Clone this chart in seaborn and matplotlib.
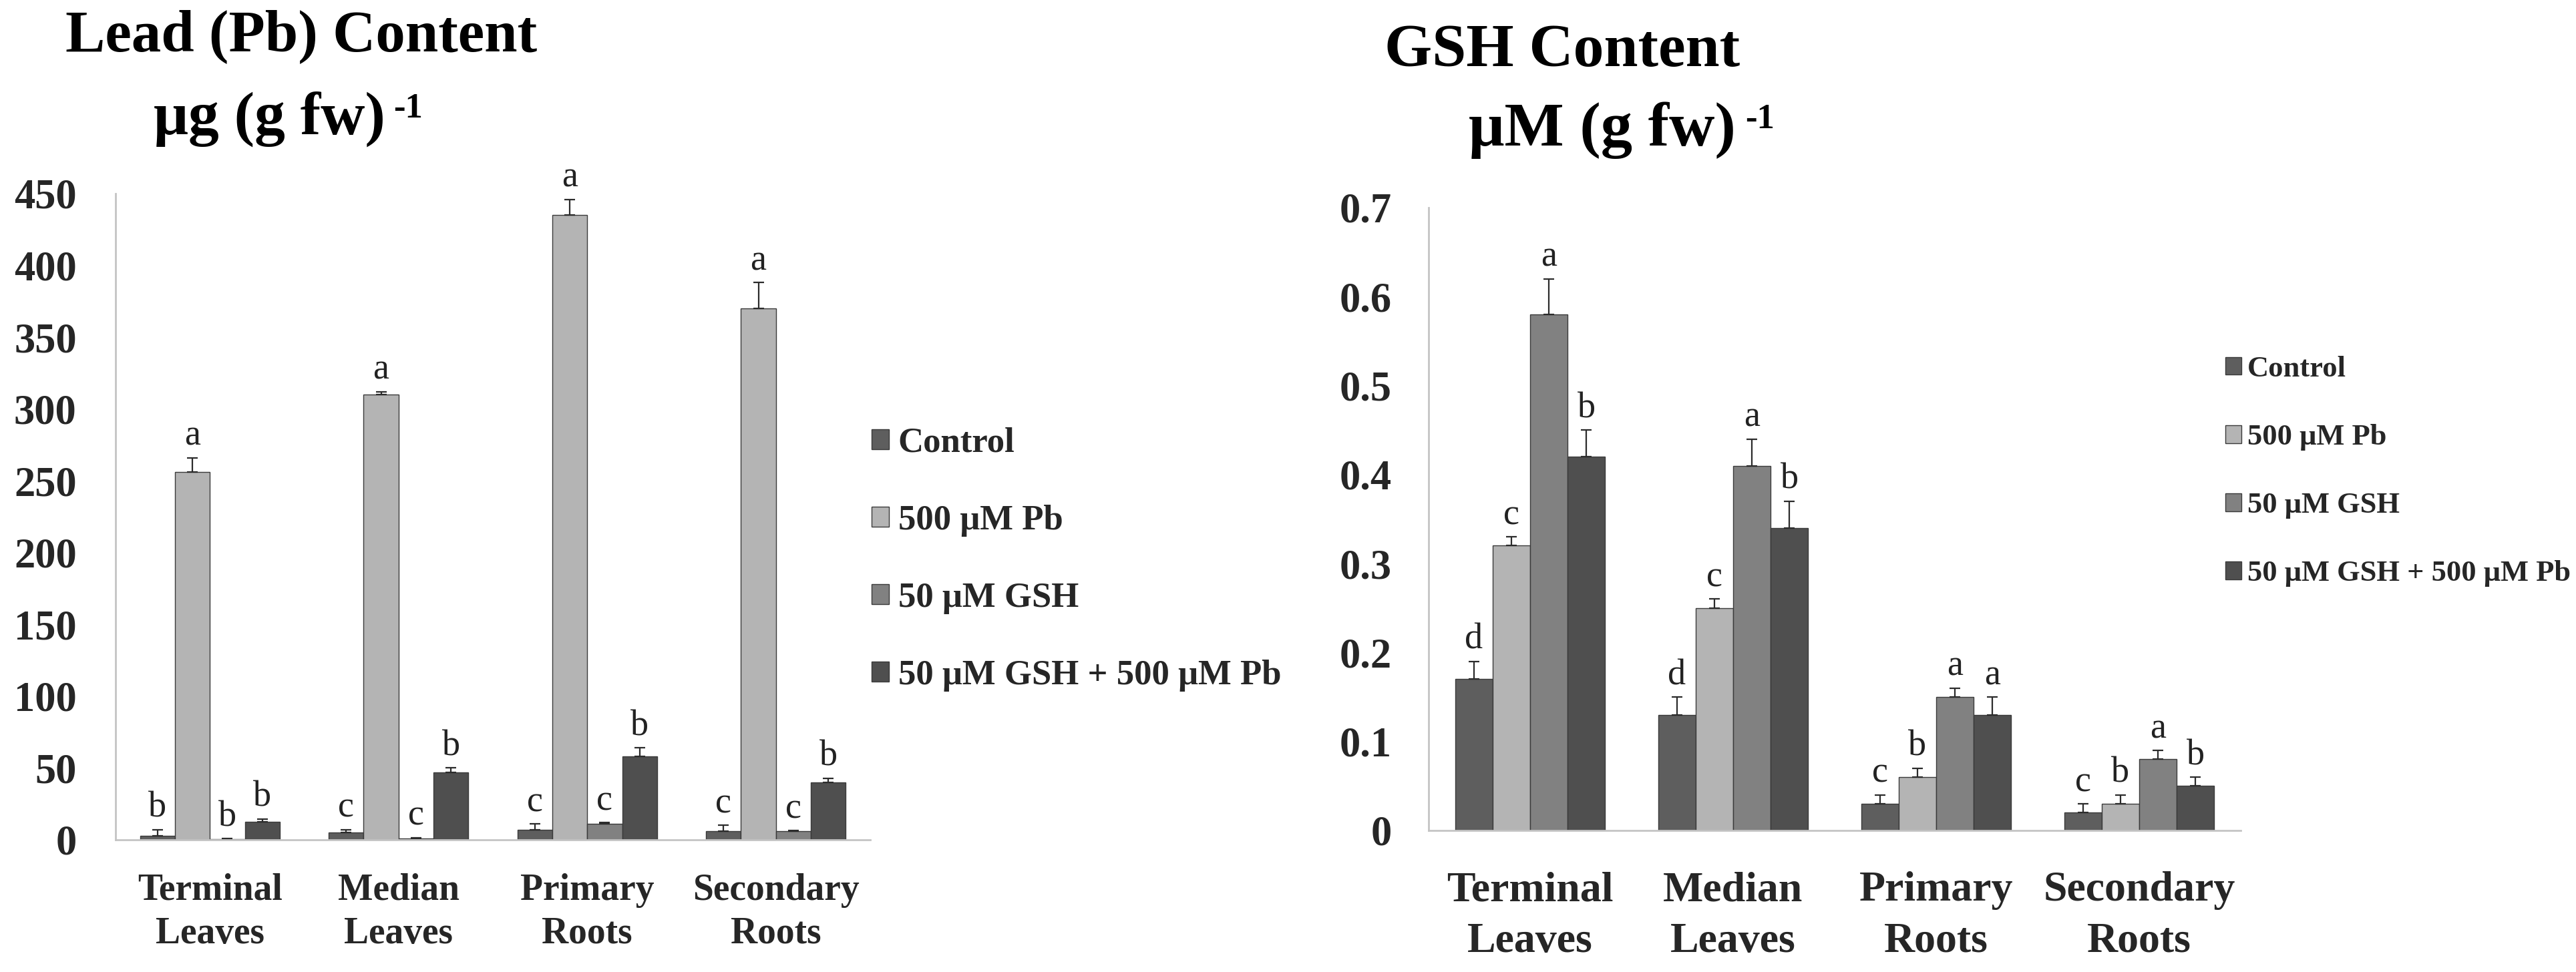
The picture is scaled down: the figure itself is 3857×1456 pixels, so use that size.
import matplotlib
matplotlib.use("Agg")
import matplotlib.pyplot as plt
import seaborn as sns
import pandas as pd
import numpy as np
from matplotlib.patches import Patch

# ---------------- data ----------------
tissues = ["Terminal\nLeaves", "Median\nLeaves", "Primary\nRoots", "Secondary\nRoots"]
treatments = ["Control", "500 μM Pb", "50 μM GSH", "50 μM GSH + 500 μM Pb"]
colors = ["#5e5e5e", "#b4b4b4", "#818181", "#4f4f4f"]

# Lead (Pb) content, µg (g fw)^-1  (rows: treatment, cols: tissue)
pb_control = [3, 5, 7, 6]
pb_pb500 = [256, 310, 435, 370]
pb_gsh50 = [0.5, 1, 11, 6]
pb_gsh_pb = [12.5, 47, 58, 40]
pb_err_control = [4, 2, 4, 4]
pb_err_pb500 = [10, 2, 11, 18]
pb_err_gsh50 = [0.3, 0.5, 1, 0.5]
pb_err_gsh_pb = [2, 3, 6, 3]
pb_letters_control = ["b", "c", "c", "c"]
pb_letters_pb500 = ["a", "a", "a", "a"]
pb_letters_gsh50 = ["b", "c", "c", "c"]
pb_letters_gsh_pb = ["b", "b", "b", "b"]

# GSH content, µM (g fw)^-1
gsh_control = [0.17, 0.13, 0.03, 0.02]
gsh_pb500 = [0.32, 0.25, 0.06, 0.03]
gsh_gsh50 = [0.58, 0.41, 0.15, 0.08]
gsh_gsh_pb = [0.42, 0.34, 0.13, 0.05]
gsh_err_control = [0.02, 0.02, 0.01, 0.01]
gsh_err_pb500 = [0.01, 0.01, 0.01, 0.01]
gsh_err_gsh50 = [0.04, 0.03, 0.01, 0.01]
gsh_err_gsh_pb = [0.03, 0.03, 0.02, 0.01]
gsh_letters_control = ["d", "d", "c", "c"]
gsh_letters_pb500 = ["c", "c", "b", "b"]
gsh_letters_gsh50 = ["a", "a", "a", "a"]
gsh_letters_gsh_pb = ["b", "b", "a", "b"]

pb_ticks = [0, 50, 100, 150, 200, 250, 300, 350, 400, 450]
gsh_ticks = [0, 0.1, 0.2, 0.3, 0.4, 0.5, 0.6, 0.7]


def long_df(series):
    rows = []
    for trt, vals in zip(treatments, series):
        for t, v in zip(tissues, vals):
            rows.append({"tissue": t, "treatment": trt, "value": v})
    return pd.DataFrame(rows)


sns.set_style("white")
plt.rcParams["font.family"] = ["Liberation Serif", "DejaVu Serif"]

W, H = 3857, 1456
fig = plt.figure(figsize=(W / 100, H / 100), dpi=100)


def fx(px):
    return px / W


def fy(py):
    return 1 - py / H


def draw(ax, series, errs, letters, ticks, ymax, ticksize, catsize, catpad,
         tickpad, catspacing):
    df = long_df(series)
    sns.barplot(data=df, x="tissue", y="value", hue="treatment",
                order=tissues, hue_order=treatments, palette=colors,
                width=0.74, errorbar=None, edgecolor="#3a3a3a", linewidth=1.0,
                legend=False, ax=ax)
    for cont, e_list, l_list in zip(ax.containers, errs, letters):
        xs = [b.get_x() + b.get_width() / 2 for b in cont]
        hs = [b.get_height() for b in cont]
        ax.errorbar(xs, hs, yerr=[np.zeros(len(hs)), e_list], fmt="none",
                    ecolor="#2b2b2b", elinewidth=1.6, capsize=5.5, capthick=1.6)
        for x, h, e, l in zip(xs, hs, e_list, l_list):
            ax.annotate(l, (x, h + e), xytext=(0, 5), textcoords="offset points",
                        ha="center", va="bottom", fontsize=39, color="#222222")
    ax.set_xlim(-0.5, 3.5)
    ax.set_ylim(0, ymax)
    ax.set_yticks(ticks)
    ax.set_yticklabels([f"{t:g}" for t in ticks], fontsize=ticksize,
                       fontweight="bold")
    ax.set_xticks(range(len(tissues)))
    ax.set_xticklabels(tissues, fontsize=catsize, fontweight="bold",
                       linespacing=catspacing)
    ax.tick_params(axis="x", length=0, pad=catpad)
    ax.tick_params(axis="y", length=0, pad=tickpad)
    ax.set_xlabel("")
    ax.set_ylabel("")
    for s in ["top", "right"]:
        ax.spines[s].set_visible(False)
    for s in ["left", "bottom"]:
        ax.spines[s].set_color("#c4c4c4")
        ax.spines[s].set_linewidth(2)
    ax.patch.set_alpha(0)


# ---------- left chart ----------
axL = fig.add_axes([fx(173), fy(1258), fx(1303 - 173), (1258 - 290) / H])
draw(axL,
     [pb_control, pb_pb500, pb_gsh50, pb_gsh_pb],
     [pb_err_control, pb_err_pb500, pb_err_gsh50, pb_err_gsh_pb],
     [pb_letters_control, pb_letters_pb500, pb_letters_gsh50, pb_letters_gsh_pb],
     pb_ticks, 450, 45, 40, 36, 42, 1.32)

# ---------- right chart ----------
axR = fig.add_axes([fx(2139), fy(1244), fx(3355 - 2139), (1244 - 311) / H])
draw(axR,
     [gsh_control, gsh_pb500, gsh_gsh50, gsh_gsh_pb],
     [gsh_err_control, gsh_err_pb500, gsh_err_gsh50, gsh_err_gsh_pb],
     [gsh_letters_control, gsh_letters_pb500, gsh_letters_gsh50, gsh_letters_gsh_pb],
     gsh_ticks, 0.7, 45, 46, 44, 40, 1.42)

# ---------- legends ----------
handles = [Patch(facecolor=c, edgecolor="#3a3a3a", linewidth=1) for c in colors]
fig.legend(handles, treatments, loc="center left",
           bbox_to_anchor=(fx(1305), fy(838)), frameon=False,
           prop={"family": "Liberation Serif", "weight": "bold", "size": 38},
           handlelength=0.5, handleheight=0.5, handletextpad=0.25,
           labelspacing=1.29, borderpad=0, borderaxespad=0)
fig.legend(handles, treatments, loc="center left",
           bbox_to_anchor=(fx(3332), fy(706)), frameon=False,
           prop={"family": "Liberation Serif", "weight": "bold", "size": 32},
           handlelength=0.55, handleheight=0.55, handletextpad=0.2,
           labelspacing=1.40, borderpad=0, borderaxespad=0)

# ---------- titles ----------
tkw = dict(fontweight="bold", color="black")
fig.text(fx(451), fy(55), "Lead (Pb) Content", ha="center", va="center",
         fontsize=64, **tkw)
tL = fig.text(fx(230), fy(178), "μg (g fw)", ha="left", va="center",
              fontsize=66, **tkw)
fig.text(0, 0, "-1", transform=None) if False else None
axL.annotate("-1", xy=(1, 1), xycoords=tL, xytext=(9, -2),
             textcoords="offset points", ha="left", va="top", fontsize=38,
             annotation_clip=False, **tkw)

fig.text(fx(2339), fy(77), "GSH Content", ha="center", va="center",
         fontsize=66, **tkw)
tR = fig.text(fx(2199), fy(195), "μM (g fw)", ha="left", va="center",
              fontsize=68, **tkw)
axR.annotate("-1", xy=(1, 1), xycoords=tR, xytext=(10, -2),
             textcoords="offset points", ha="left", va="top", fontsize=38,
             annotation_clip=False, **tkw)

fig.savefig("out.png", dpi=100, facecolor="white")
